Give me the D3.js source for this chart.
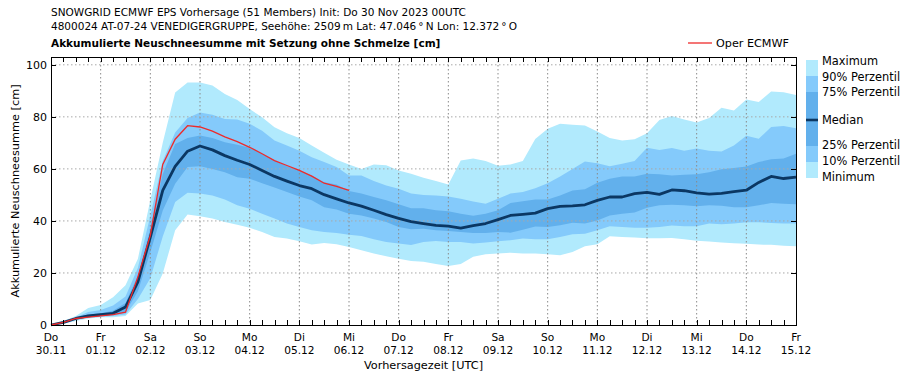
<!DOCTYPE html>
<html>
<head>
<meta charset="utf-8">
<script src="https://cdn.jsdelivr.net/npm/d3@7"></script>
<style>
	body { margin: 0; background: #fff; }
	svg { font-family: "DejaVu Sans", sans-serif; }
</style>
</head>
<body>
<svg id="fig" width="909" height="380"></svg>
<script>

// ---------------------------------------------------------------- data
// 6-hourly steps from Do 30.11.2023 00UTC to Fr 15.12.2023 00UTC
var startTime = Date.UTC(2023, 10, 30, 0),
	stepHours = 6;

var maxVals = [0, 1.5, 3.5, 6.5, 7.7, 10.7, 15.3, 25.5, 48, 70, 89.4, 93.2, 93.2, 92, 88.8, 86.5,
	83, 79.8, 76, 73.7, 71.9, 69, 66.2, 63.5, 61.7, 60, 61.7, 61.4, 59.4, 58.1, 56.6,
	55.3, 54, 63.2, 64, 63, 61.2, 61.7, 63, 71.5, 75.4, 77.3, 77, 76.7, 74.4,
	71.9, 70.9, 71.4, 73.7, 78.8, 80.3, 79, 77.8, 79.6, 83.5, 82.4, 86.7, 85.7, 89.7, 89.5, 88.4];
var p90Vals = [0, 1.2, 3, 5, 5.8, 7.5, 11, 22, 42, 63, 74, 79.6, 81.7, 80.8, 79.2, 79,
	77.3, 74.7, 70.9, 69, 67, 64.5, 62.6, 60.7, 57.5, 57.5, 55.3, 53.6, 52.4, 50.5, 50,
	49.8, 49.4, 48.5, 47.5, 46.6, 48.5, 50.5, 51.1, 52.6, 54.5, 57.1, 60, 62.8, 62.2,
	61, 62, 63, 68.1, 67.3, 68, 67, 67.8, 67, 66.7, 69, 72.7, 71.6, 76.1, 76.5, 75.6];
var p75Vals = [0, 1, 2.8, 4, 4.5, 5.5, 8.5, 19, 37, 58, 69.6, 71.9, 72.8, 71.9, 70.2, 69.3,
	68.1, 65.8, 63.2, 61, 59.4, 57.5, 54.9, 54, 51.5, 50.5, 49.2, 47.9, 46.4, 44.9, 44.9,
	44.1, 43.7, 42.8, 42, 42.8, 44.1, 46.9, 47.6, 48.2, 48.2, 49.8, 51.7, 52.2, 54.7,
	56.2, 57.1, 57.1, 58.1, 57.9, 57.5, 57.7, 57.9, 58.7, 59.9, 60.3, 60.9, 62.6, 63.7, 64, 65.8];
var medianVals = [0, 1, 2.5, 3.5, 4, 4.5, 6.9, 16.6, 33.8, 51.7, 61, 66.8, 68.8, 67.3, 65.1, 63.3,
	61.7, 59.4, 57.1, 55.3, 53.6, 52.4, 50.1, 48.5, 46.9, 45.7, 44.1, 42.4, 41, 39.7, 39,
	38.3, 38, 37.2, 38.2, 39, 40.5, 42.1, 42.5, 43, 44.7, 45.6, 45.8, 46.2, 47.9,
	49.2, 49.2, 50.5, 51, 50.2, 51.9, 51.6, 50.8, 50.3, 50.6, 51.3, 51.8, 54.8, 57.1, 56.3, 56.8];
var p25Vals = [0, 0.8, 2.2, 3, 3.5, 4, 5, 13, 28, 44, 54.3, 60.7, 61, 60, 58.7, 56.8,
	56.2, 54.5, 52.8, 51.1, 49.4, 47.9, 45.3, 44.4, 42.8, 42.1, 40.9, 39.6, 37.7, 36.8, 37,
	36.4, 36.1, 35.7, 35.4, 35.4, 35.7, 35.5, 36.6, 37.9, 37.7, 38.3, 39.3, 39, 40.2,
	42.1, 42.8, 43.2, 45.1, 46, 46.2, 46, 45.6, 46, 45.8, 45.3, 45.3, 46, 46.9, 46.6, 46.4];
var p10Vals = [0, 0.6, 2, 2.8, 3.2, 3.5, 4, 10, 18, 34, 47.3, 50.8, 50.5, 49.8, 48.2, 46,
	44.7, 42.8, 40.9, 39, 37.7, 36.4, 35.7, 35.4, 34.7, 34.2, 33, 31.9, 31.3, 30.7, 31.9,
	32.3, 31.9, 31.9, 31.3, 31.7, 32.2, 32.6, 33.2, 33, 33, 33.8, 34.9, 35.1, 36.4,
	38, 37.7, 37.4, 37.4, 37.7, 38.2, 38, 38, 39, 38.7, 39, 39.5, 39.5, 39.2, 39, 39];
var minVals = [0, 0.5, 1.5, 2.5, 3, 3, 3.5, 8.3, 9.6, 19.8, 36.4, 42.5, 41.8, 40.9, 39.6, 38.5,
	37.4, 35.7, 33.8, 33.2, 32.2, 30.9, 31.5, 31, 30, 28.7, 27.5, 26.4, 25.5, 24.6, 24.3,
	23.4, 22.7, 23.4, 26.2, 27.2, 27.5, 27.8, 27.5, 27.5, 27.2, 26.8, 28.1, 30.3, 31,
	34.1, 33.8, 33.6, 33.3, 33.3, 33.4, 33, 32.4, 32.1, 31.7, 31.4, 31.2, 30.9, 30.8, 30.5, 30.3];
// Oper ECMWF run stops at Mi 06.12 00UTC
var operVals = [0, 1, 2.5, 3, 3.5, 4, 4.9, 18.5, 34.5, 61.7, 71.4, 76.6, 76.1, 74.5, 72.3, 70.5,
	68.3, 65.8, 63.2, 61.3, 59.4, 57.2, 54.5, 53.3, 51.7];

var dayLabels = ["Do", "Fr", "Sa", "So", "Mo", "Di", "Mi", "Do", "Fr", "Sa", "So", "Mo", "Di", "Mi", "Do", "Fr"];
var yTicks = [0, 20, 40, 60, 80, 100];

var titleLines = [
	"SNOWGRID ECMWF EPS Vorhersage (51 Members) Init: Do 30 Nov 2023 00UTC",
	"4800024 AT-07-24 VENEDIGERGRUPPE, Seehöhe: 2509\u2009m Lat: 47.046\u2009°\u2009N Lon: 12.372\u2009°\u2009O"
];
var subTitle = "Akkumulierte Neuschneesumme mit Setzung ohne Schmelze [cm]";

var legendItems = [
	{label: "Maximum", y: 61},
	{label: "90% Perzentil", y: 77},
	{label: "75% Perzentil", y: 92},
	{label: "Median", y: 120},
	{label: "25% Perzentil", y: 145},
	{label: "10% Perzentil", y: 161},
	{label: "Minimum", y: 177}
];

var cols = {
	light: "#b1eafd",
	mid: "#84cafb",
	dark: "#62b0ec",
	median: "#0b3763",
	oper: "#ee2a2a",
	grid: "#8a8a8a"
};

// ---------------------------------------------------------------- setup
var m = [57, 113, 55, 51],   // top right bottom left
	width = 909, height = 380;

var svg = d3.select("#fig");

var times = medianVals.map((d, i) => new Date(startTime + i * stepHours * 3600e3));
var dayTimes = dayLabels.map((d, i) => new Date(startTime + i * 24 * 3600e3));

var xScale = d3.scaleUtc()
	.domain([times[0], times[times.length - 1]])
	.range([m[3], width - m[1]]);

var yScale = d3.scaleLinear()
	.domain([0, 103])
	.range([height - m[2], m[0]]);

// ---------------------------------------------------------------- bands
function band(lo, hi) {
	return d3.area()
		.x((d, i) => xScale(times[i]))
		.y0((d, i) => yScale(lo[i]))
		.y1((d, i) => yScale(hi[i]))(lo);
}

svg.append("path").attr("d", band(minVals, maxVals)).attr("fill", cols.light);
svg.append("path").attr("d", band(p10Vals, p90Vals)).attr("fill", cols.mid);
svg.append("path").attr("d", band(p25Vals, p75Vals)).attr("fill", cols.dark);

// ---------------------------------------------------------------- grid
var grid = svg.append("g").attr("class", "grid");
grid.selectAll("line.v")
	.data(dayTimes.slice(1, -1))
	.enter()
	.append("line")
	.attr("x1", d => xScale(d)).attr("x2", d => xScale(d))
	.attr("y1", yScale.range()[1]).attr("y2", yScale.range()[0])
	.attr("stroke", cols.grid).attr("stroke-width", 1)
	.attr("stroke-dasharray", "1.5,2.5");
grid.selectAll("line.h")
	.data(yTicks.slice(1))
	.enter()
	.append("line")
	.attr("x1", m[3]).attr("x2", width - m[1])
	.attr("y1", d => yScale(d)).attr("y2", d => yScale(d))
	.attr("stroke", "#a8a8a8").attr("stroke-width", 1)
	.attr("stroke-dasharray", "1.5,2.5");

// ---------------------------------------------------------------- lines
var line = d3.line()
	.x((d, i) => xScale(times[i]))
	.y(d => yScale(d));

svg.append("path")
	.attr("d", line(medianVals))
	.attr("fill", "none")
	.attr("stroke", cols.median)
	.attr("stroke-width", 2.8)
	.attr("stroke-linejoin", "round");

svg.append("path")
	.attr("d", line(operVals))
	.attr("fill", "none")
	.attr("stroke", cols.oper)
	.attr("stroke-width", 1.3);

// ---------------------------------------------------------------- axes
var x0 = m[3], x1 = width - m[1], y0 = yScale.range()[0], y1 = yScale.range()[1];

var ticks = svg.append("g").attr("stroke", "#000").attr("stroke-width", 1);
times.forEach(function(t) {
	var x = Math.round(xScale(t)) + .5;
	ticks.append("line").attr("x1", x).attr("x2", x).attr("y1", y0).attr("y2", y0 - 5);
	ticks.append("line").attr("x1", x).attr("x2", x).attr("y1", y1).attr("y2", y1 + 5);
});
yTicks.forEach(function(v) {
	var y = Math.round(yScale(v)) + .5;
	ticks.append("line").attr("x1", x0).attr("x2", x0 + 5).attr("y1", y).attr("y2", y);
	ticks.append("line").attr("x1", x1).attr("x2", x1 - 5).attr("y1", y).attr("y2", y);
});

svg.append("rect")
	.attr("x", x0 + .5).attr("y", y1 + .5)
	.attr("width", x1 - x0).attr("height", y0 - y1)
	.attr("fill", "none").attr("stroke", "#000").attr("stroke-width", 1);

svg.append("g")
	.selectAll("text")
	.data(yTicks)
	.enter()
	.append("text")
	.attr("x", x0 - 4)
	.attr("y", d => yScale(d))
	.attr("dy", "0.35em")
	.attr("text-anchor", "end")
	.attr("font-size", 11)
	.text(d => d);

var xl = svg.append("g").attr("font-size", 10.6).attr("text-anchor", "middle");
dayTimes.forEach(function(t, i) {
	var x = xScale(t);
	xl.append("text").attr("x", x).attr("y", 341).text(dayLabels[i]);
	xl.append("text").attr("x", x).attr("y", 353.5).text(d3.utcFormat("%d.%m")(t));
});

svg.append("text")
	.attr("x", (x0 + x1) / 2)
	.attr("y", 369)
	.attr("text-anchor", "middle")
	.attr("font-size", 11.3)
	.text("Vorhersagezeit [UTC]");

svg.append("text")
	.attr("transform", `translate(19, ${(y0 + y1) / 2}) rotate(-90)`)
	.attr("text-anchor", "middle")
	.attr("font-size", 11.3)
	.text("Akkumulierte Neuschneesumme [cm]");

// ---------------------------------------------------------------- titles
titleLines.forEach(function(t, i) {
	svg.append("text")
		.attr("x", 51).attr("y", 16 + i * 14)
		.attr("font-size", 10.5)
		.text(t);
});
svg.append("text")
	.attr("x", 51).attr("y", 47)
	.attr("font-size", 10.5)
	.attr("font-weight", "bold")
	.text(subTitle);

// ---------------------------------------------------------------- legend
svg.append("line")
	.attr("x1", 688).attr("x2", 712).attr("y1", 43).attr("y2", 43)
	.attr("stroke", cols.oper).attr("stroke-width", 1.3);
svg.append("text")
	.attr("x", 716).attr("y", 43).attr("dy", "0.35em")
	.attr("font-size", 11.2)
	.text("Oper ECMWF");

var lgX = 806, lgW = 12;
var lgBands = [
	{y: 60, h: 16, c: cols.light},
	{y: 76, h: 16, c: cols.mid},
	{y: 92, h: 28, c: cols.dark},
	{y: 120, h: 26, c: cols.dark},
	{y: 146, h: 16, c: cols.mid},
	{y: 162, h: 16, c: cols.light}
];
svg.append("g")
	.selectAll("rect")
	.data(lgBands)
	.enter()
	.append("rect")
	.attr("x", lgX).attr("y", d => d.y)
	.attr("width", lgW).attr("height", d => d.h)
	.attr("fill", d => d.c);
svg.append("line")
	.attr("x1", lgX).attr("x2", lgX + lgW).attr("y1", 120).attr("y2", 120)
	.attr("stroke", cols.median).attr("stroke-width", 2.6);

svg.append("g")
	.selectAll("text")
	.data(legendItems)
	.enter()
	.append("text")
	.attr("x", 822)
	.attr("y", d => d.y)
	.attr("dy", "0.35em")
	.attr("font-size", 11.4)
	.text(d => d.label);

</script>
</body>
</html>
